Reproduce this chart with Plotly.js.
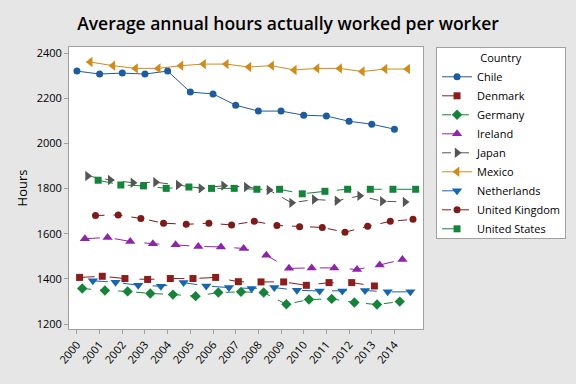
<!DOCTYPE html>
<html><head><meta charset="utf-8">
<script src="https://cdn.plot.ly/plotly-3.0.1.min.js"></script>
<style>html,body{margin:0;padding:0;background:#e6e6e6;overflow:hidden}</style>
</head><body>
<div id="chart" style="width:576px;height:384px"></div>
<script>
const years = [2000,2001,2002,2003,2004,2005,2006,2007,2008,2009,2010,2011,2012,2013,2014];
const countries = ["Chile","Denmark","Germany","Ireland","Japan","Mexico","Netherlands","United Kingdom","United States"];
const chile = [2320,2307,2311,2307,2320,2227,2219,2169,2143,2143,2125,2121,2098,2085,2063];
const denmark = [1407,1412,1402,1398,1402,1402,1407,1388,1387,1387,1372,1384,1384,1369];
const germany = [1358,1349,1345,1336,1331,1324,1340,1343,1340,1288,1309,1312,1296,1287,1300];
const ireland = [1578,1584,1566,1556,1551,1544,1542,1535,1505,1447,1449,1449,1442,1462,1486];
const japan = [1856,1838,1826,1828,1816,1801,1813,1807,1794,1737,1752,1746,1768,1744,1741];
const mexico = [2360,2344,2332,2332,2344,2351,2351,2338,2344,2325,2332,2332,2318,2329,2329];
const netherlands = [1392,1386,1372,1368,1384,1369,1362,1358,1362,1350,1347,1347,1349,1343,1343];
const uk = [1681,1683,1668,1647,1642,1647,1639,1655,1637,1631,1628,1607,1633,1655,1664];
const us = [1837,1816,1812,1801,1807,1801,1801,1797,1797,1777,1788,1797,1797,1797,1797];
const yTicks = [1200,1400,1600,1800,2000,2200,2400];

const series = [chile, denmark, germany, ireland, japan, mexico, netherlands, uk, us];
const colors = ["#1f5c9e","#8b1d1d","#15843a","#8e24aa","#555555","#d08c1a","#1565b0","#7d1a1a","#15843a"];
const symbols = ["circle","square","diamond","triangle-up","triangle-right","triangle-left","triangle-down","circle","square"];
const dashes = ["solid","longdash","dash","longdash","dash","solid","longdash","dash","longdash"];
const sizes = [7,7,8,9,9,9,9,7,7];
const dodge = 0.117;

const traces = series.map((vals, i) => ({
  type: "scatter", mode: "lines+markers", name: countries[i],
  x: vals.map((v, k) => years[k] + i * dodge),
  y: vals,
  line: {color: colors[i], width: 1, dash: dashes[i]},
  marker: {color: colors[i], symbol: symbols[i], size: sizes[i]}
}));

const layout = {
  width: 576, height: 384,
  paper_bgcolor: "#e6e6e6", plot_bgcolor: "#ffffff",
  font: {family: "Open Sans, sans-serif", size: 11, color: "#000"},
  margin: {l: 69, r: 153, t: 47, b: 55, pad: 0, autoexpand: false},
  title: {text: "Average annual hours actually worked per worker", x: 0.5, xanchor: "center", xref: "container",
          y: 0.937, yanchor: "middle", font: {size: 17.5, weight: 600, color: "#000", family: "Open Sans, sans-serif"}},
  xaxis: {range: [1999.65, 2015.26], tickvals: years, ticktext: years.map(String), tickangle: -50,
          showgrid: false, zeroline: false, showline: true, linecolor: "#a0a0a0", mirror: true,
          ticks: "outside", ticklen: 4, tickcolor: "#a0a0a0", tickfont: {size: 11}},
  yaxis: {range: [1178.7, 2426.6], tickvals: yTicks, showgrid: false, zeroline: false, showline: true,
          linecolor: "#a0a0a0", mirror: true, ticks: "outside", ticklen: 4, tickcolor: "#a0a0a0",
          title: {text: "Hours", font: {size: 13}, standoff: 6}, tickfont: {size: 11}},
  legend: {xref: "container", yref: "container", x: 0.757, xanchor: "left", y: 0.8776, yanchor: "top",
           bgcolor: "#ffffff", bordercolor: "#a0a0a0", borderwidth: 1,
           title: {text: "Country", side: "top center", font: {size: 11}}, font: {size: 11}, tracegroupgap: 0},
  showlegend: true
};
Plotly.newPlot("chart", traces, layout, {staticPlot: true, displayModeBar: false});
</script>
</body></html>
